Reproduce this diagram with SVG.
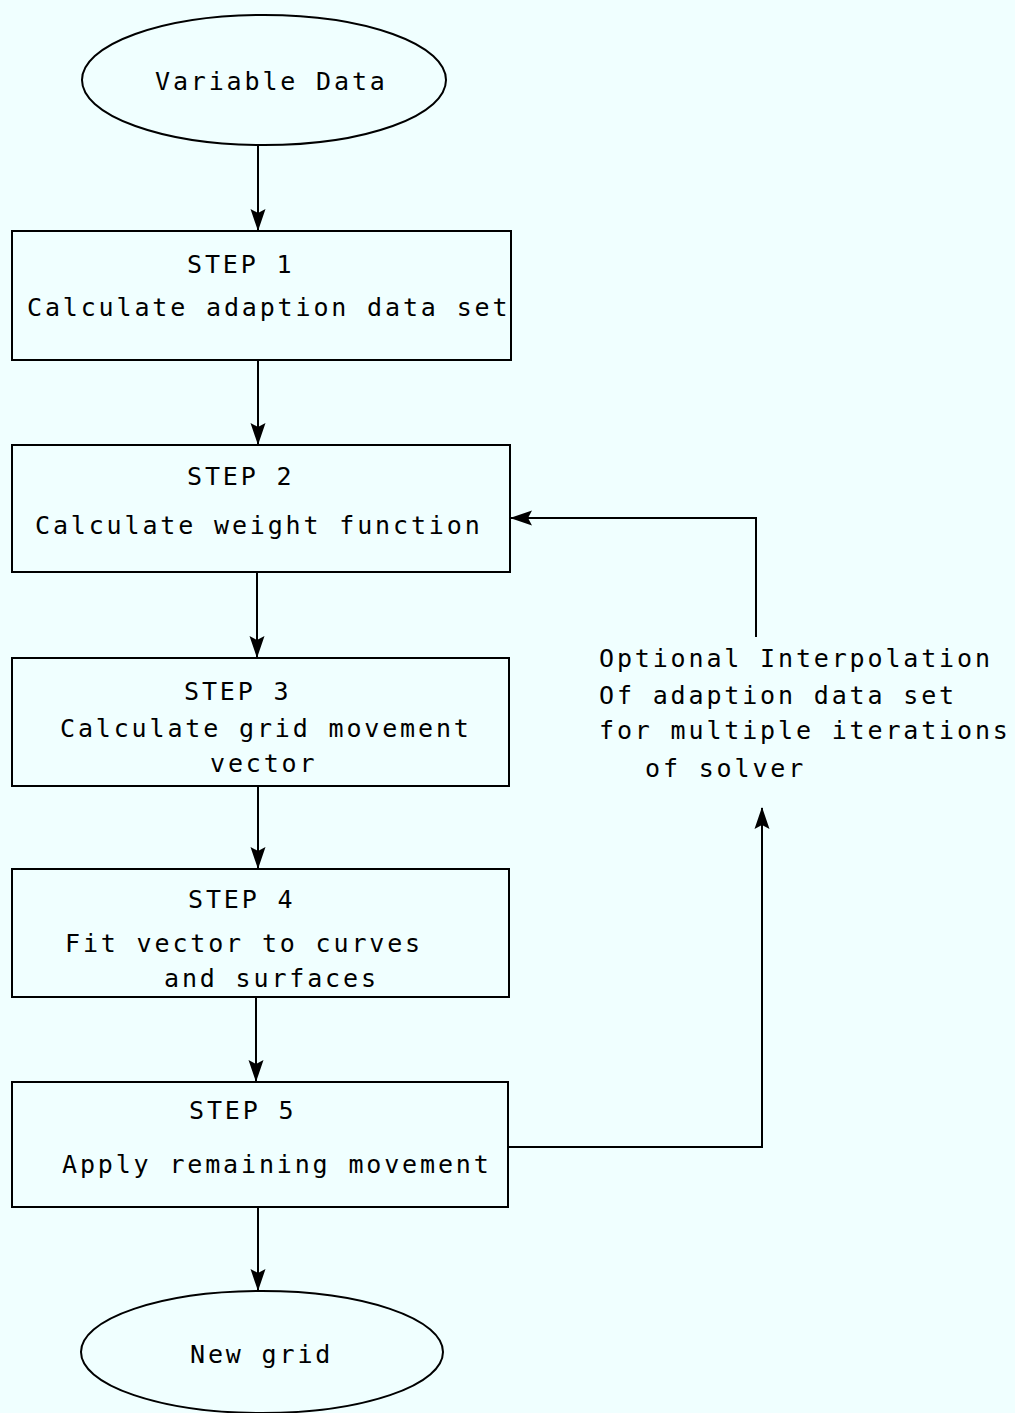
<svg xmlns="http://www.w3.org/2000/svg" width="1015" height="1413" viewBox="0 0 1015 1413">
<style>
.shape{fill:none;stroke:#000;stroke-width:2}
.conn{fill:none;stroke:#000;stroke-width:2}
text{font-family:"DejaVu Sans Mono","Liberation Mono",monospace;font-size:25px;letter-spacing:2.85px;fill:#000}
</style>
<defs>
<marker id="arr" viewBox="0 0 22 16" refX="21" refY="8" markerWidth="22" markerHeight="16" markerUnits="userSpaceOnUse" orient="auto">
<path d="M0,0.5 L22,8 L0,15.5 L4,8 Z" fill="#000"/>
</marker>
</defs>
<rect width="1015" height="1413" fill="#F0FFFF"/>
<g id="connectors">
<path class="conn" d="M258,145 V230" marker-end="url(#arr)"/>
<path class="conn" d="M258,360 V444" marker-end="url(#arr)"/>
<path class="conn" d="M257,572 V657" marker-end="url(#arr)"/>
<path class="conn" d="M258,786 V868" marker-end="url(#arr)"/>
<path class="conn" d="M256,997 V1081" marker-end="url(#arr)"/>
<path class="conn" d="M258,1207 V1290" marker-end="url(#arr)"/>
<path class="conn" d="M508,1147 H762 V808" marker-end="url(#arr)"/>
<path class="conn" d="M756,637 V518 H511" marker-end="url(#arr)"/>
</g>
<g id="start">
<ellipse class="shape" cx="264" cy="80" rx="182" ry="65"/>
<text x="155" y="90">Variable Data</text>
</g>
<g id="step1">
<rect class="shape" x="12" y="231" width="499" height="129"/>
<text x="187" y="273">STEP 1</text>
<text x="27" y="316">Calculate adaption data set</text>
</g>
<g id="step2">
<rect class="shape" x="12" y="445" width="498" height="127"/>
<text x="187" y="485">STEP 2</text>
<text x="35" y="534">Calculate weight function</text>
</g>
<g id="step3">
<rect class="shape" x="12" y="658" width="497" height="128"/>
<text x="184" y="700">STEP 3</text>
<text x="60" y="737">Calculate grid movement</text>
<text x="210" y="772">vector</text>
</g>
<g id="step4">
<rect class="shape" x="12" y="869" width="497" height="128"/>
<text x="188" y="908">STEP 4</text>
<text x="65" y="952">Fit vector to curves</text>
<text x="164" y="987">and surfaces</text>
</g>
<g id="step5">
<rect class="shape" x="12" y="1082" width="496" height="125"/>
<text x="189" y="1119">STEP 5</text>
<text x="62" y="1173">Apply remaining movement</text>
</g>
<g id="end">
<ellipse class="shape" cx="262" cy="1352" rx="181" ry="61"/>
<text x="190" y="1363">New grid</text>
</g>
<g id="note">
<text x="599" y="667">Optional Interpolation</text>
<text x="599" y="704">Of adaption data set</text>
<text x="599" y="739">for multiple iterations</text>
<text x="645" y="777">of solver</text>
</g>
</svg>
